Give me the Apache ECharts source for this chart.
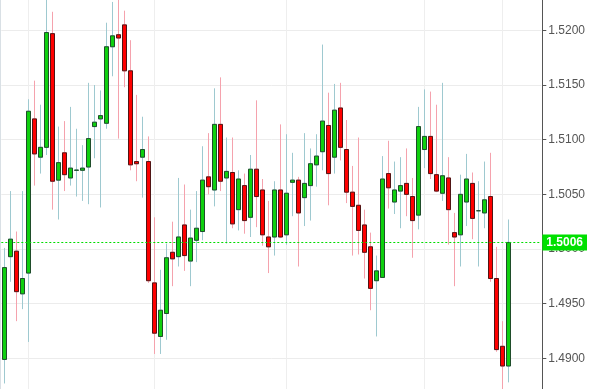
<!DOCTYPE html>
<html>
<head>
<meta charset="utf-8">
<script src="https://cdn.jsdelivr.net/npm/echarts@6/dist/echarts.min.js"></script>
<style>
html,body{margin:0;padding:0;background:#fff;}
#chart{width:589px;height:389px;}
</style>
</head>
<body>
<div id="chart"></div>
<script>
// ---- data ----
const opens = [1.4899,1.4993,1.4998,1.4959,1.4978,1.5119,1.5084,1.5093,1.5197,1.5063,1.5088,1.5065,1.5072,1.5072,1.5075,1.5112,1.5119,1.5115,1.5185,1.5196,1.5205,1.5163,1.5080,1.5084,1.5080,1.4969,1.4920,1.4941,1.4997,1.4993,1.5022,1.4989,1.5008,1.5016,1.5066,1.5054,1.5114,1.5065,1.5070,1.5036,1.5058,1.5029,1.5073,1.5054,1.5011,1.5011,1.5054,1.5013,1.5061,1.5063,1.5047,1.5058,1.5077,1.5089,1.5113,1.5084,1.5129,1.5091,1.5052,1.5040,1.5022,1.5002,1.4971,1.4974,1.5069,1.5043,1.5053,1.5060,1.5048,1.5031,1.5091,1.5103,1.5068,1.5051,1.5065,1.5015,1.5013,1.5043,1.5060,1.5035,1.5033,1.5048,1.4973,1.4911,1.4893];
const closes = [1.4983,1.5009,1.4961,1.4973,1.5126,1.5087,1.5093,1.5198,1.5062,1.5079,1.5068,1.5074,1.50722,1.5074,1.5101,1.5116,1.5122,1.5185,1.5195,1.5193,1.5163,1.5077,1.5078,1.5091,1.4971,1.4923,1.4944,1.4992,1.4991,1.5011,1.4994,1.5010,1.5019,1.5063,1.5057,1.5114,1.5062,1.5071,1.5023,1.5064,1.5026,1.5073,1.5048,1.5013,1.5002,1.5054,1.5011,1.5051,1.5063,1.5033,1.5060,1.5078,1.5085,1.5117,1.5069,1.5127,1.5093,1.5052,1.5039,1.5017,1.4997,1.4964,1.4980,1.5064,1.5056,1.5054,1.5058,1.5050,1.5026,1.5112,1.5103,1.5069,1.5053,1.5067,1.5036,1.5011,1.5050,1.5064,1.5028,1.5035,1.5045,1.4973,1.4908,1.4893,1.5006];
const highs = [1.5001,1.5053,1.5016,1.5053,1.5137,1.5154,1.5132,1.5229,1.5217,1.5112,1.5117,1.5130,1.5110,1.5095,1.5152,1.5150,1.5145,1.5207,1.5226,1.5229,1.5218,1.5191,1.5141,1.5121,1.5103,1.5029,1.4981,1.5005,1.5025,1.5065,1.5059,1.5036,1.5053,1.5094,1.5106,1.5147,1.5157,1.5102,1.5102,1.5072,1.5069,1.5086,1.5136,1.5064,1.5044,1.5062,1.5114,1.5105,1.5088,1.5066,1.5106,1.5092,1.5105,1.5187,1.5143,1.5151,1.5152,1.5118,1.5076,1.5102,1.5036,1.5015,1.4994,1.5085,1.5099,1.5080,1.5084,1.5092,1.5065,1.5130,1.5146,1.5144,1.5132,1.5152,1.5084,1.5033,1.5068,1.5087,1.5070,1.5062,1.5080,1.5088,1.5002,1.4934,1.5027];
const lows = [1.4877,1.4970,1.4934,1.4945,1.4915,1.5058,1.5069,1.5086,1.5036,1.5027,1.5053,1.5058,1.5048,1.5044,1.5041,1.5083,1.5038,1.5110,1.5158,1.5101,1.5148,1.5072,1.5062,1.5047,1.4969,1.4904,1.4904,1.4917,1.4966,1.4984,1.4980,1.4966,1.4988,1.5008,1.5050,1.5039,1.5053,1.5005,1.5019,1.5017,1.5014,1.5011,1.5020,1.5003,1.4978,1.4994,1.5010,1.5004,1.5030,1.4984,1.5021,1.5026,1.5057,1.5072,1.5040,1.5069,1.5081,1.5042,1.4994,1.4995,1.4973,1.4944,1.4920,1.4974,1.5037,1.5032,1.5019,1.5030,1.4992,1.5018,1.5074,1.5064,1.5052,1.5044,1.5004,1.4966,1.4984,1.5021,1.5009,1.4984,1.5019,1.4970,1.4906,1.4868,1.4878];
const slotCount = 90;
const categories = Array.from({length: slotCount}, (_, i) => String(i + 1));
const verticalGridIdx = [4, 25, 47, 70, 83];
const yTicks = {min: 1.4850, max: 1.5250, interval: 0.0050};

// ---- build ----
const wickData = opens.map((o, i) => [o, closes[i], lows[i], highs[i]]);
const bodyData = opens.map((o, i) => [o, closes[i], Math.min(o, closes[i]), Math.max(o, closes[i])]);
const lastClose = closes[closes.length - 1];

const chart = echarts.init(document.getElementById('chart'), null, {renderer: 'canvas'});
chart.setOption({
  animation: false,
  backgroundColor: '#ffffff',
  graphic: [{
    type: 'line', silent: true, z: 10,
    shape: {x1: 0.5, y1: 0, x2: 0.5, y2: 389},
    style: {stroke: '#d9e0e5', lineWidth: 1}
  }],
  grid: {left: 1.3, right: 47.7, top: -24.3, bottom: -24, containLabel: false, outerBoundsMode: 'none'},
  xAxis: {
    type: 'category',
    data: categories,
    boundaryGap: true,
    axisLine: {show: false},
    axisTick: {show: false},
    axisLabel: {show: false},
    splitLine: {
      show: true,
      alignWithLabel: true,
      interval: (idx) => verticalGridIdx.indexOf(idx) >= 0,
      lineStyle: {color: '#eeeeee', width: 1}
    }
  },
  yAxis: {
    type: 'value',
    position: 'right',
    offset: 1,
    min: yTicks.min,
    max: yTicks.max,
    interval: yTicks.interval,
    axisLine: {show: true, lineStyle: {color: '#555555', width: 1}},
    axisTick: {show: true, length: 4, lineStyle: {color: '#555555'}},
    axisLabel: {
      color: '#555555', fontSize: 12, margin: 6,
      fontFamily: 'Arial, "Liberation Sans", sans-serif',
      formatter: (v) => v.toFixed(4)
    },
    splitLine: {show: true, lineStyle: {color: '#ececec', width: 1}}
  },
  series: [
    {
      type: 'candlestick',
      name: 'wicks',
      data: wickData,
      barWidth: 4,
      clip: false,
      z: 2,
      itemStyle: {
        color: 'rgba(0,0,0,0)', color0: 'rgba(0,0,0,0)',
        borderColor: '#9ec9d0', borderColor0: '#f5a2ad', borderWidth: 1
      },
      markLine: {
        silent: true,
        precision: 4,
        symbol: ['none', 'none'],
        lineStyle: {color: '#00dd00', type: [2, 2], width: 1, opacity: 1},
        label: {
          show: true, position: 'end', distance: 1,
          formatter: () => lastClose.toFixed(4),
          color: '#ffffff', fontWeight: 'bold', fontSize: 12,
          fontFamily: 'Arial, "Liberation Sans", sans-serif',
          backgroundColor: '#00e000', padding: [2, 4, 2, 4]
        },
        data: [{yAxis: lastClose}]
      }
    },
    {
      type: 'candlestick',
      name: 'bodies',
      data: bodyData,
      barWidth: 4,
      clip: false,
      z: 3,
      itemStyle: {
        color: '#0fd00f', color0: '#ff0000',
        borderColor: '#1f4d2a', borderColor0: '#501515', borderWidth: 1
      }
    }
  ]
});
</script>
</body>
</html>
